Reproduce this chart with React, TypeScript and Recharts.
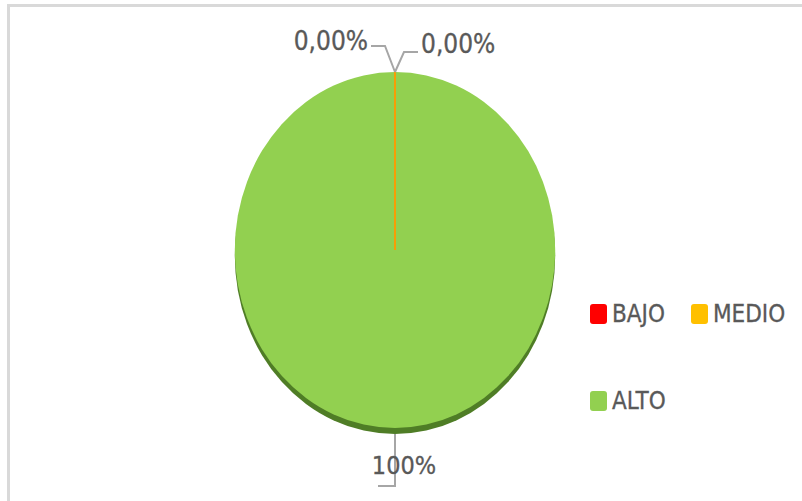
import React from 'react';
import { PieChart, Pie, Cell, Legend } from 'recharts';

const categories = ['BAJO', 'MEDIO', 'ALTO'];
const values = [0, 0, 100];
const labelTexts = ['0,00%', '0,00%', '100%'];
const colors = ['#ff0000', '#ffc000', '#92d050'];

const data = categories.map((name, i) => ({ name, value: values[i] }));

const FONT = "'DejaVu Sans Condensed', 'DejaVu Sans', sans-serif";
const TEXT = '#595959';
const LINE = '#a6a6a6';
const RX_RATIO = 0.9;
const DEPTH = 6;

const pt = (cx: number, cy: number, rx: number, ry: number, a: number) => {
  const r = (a * Math.PI) / 180;
  return [cx + rx * Math.cos(r), cy - ry * Math.sin(r)];
};

const slicePath = (cx: number, cy: number, rx: number, ry: number, s: number, e: number) => {
  const delta = Math.abs(e - s);
  if (delta >= 359.99) {
    return `M ${cx} ${cy - ry} A ${rx} ${ry} 0 1 1 ${cx} ${cy + ry} A ${rx} ${ry} 0 1 1 ${cx} ${cy - ry} Z`;
  }
  const [x1, y1] = pt(cx, cy, rx, ry, s);
  const [x2, y2] = pt(cx, cy, rx, ry, e);
  const large = delta > 180 ? 1 : 0;
  const sweep = e < s ? 1 : 0;
  return `M ${cx} ${cy} L ${x1} ${y1} A ${rx} ${ry} 0 ${large} ${sweep} ${x2} ${y2} Z`;
};

const EllipseSlice = (props: any) => {
  const { cx, cy, outerRadius, startAngle, endAngle, fill } = props;
  if (Math.abs(endAngle - startAngle) < 0.001) return <g />;
  const rx = outerRadius * RX_RATIO;
  const ry = outerRadius;
  const d = slicePath(cx, cy, rx, ry, startAngle, endAngle);
  return (
    <g>
      <path d={d} fill="#4f7d26" transform={`translate(0, ${DEPTH})`} />
      <path d={d} fill={fill} />
    </g>
  );
};

const renderLabel = (props: any) => {
  const { cx, cy, midAngle, outerRadius, index, value } = props;
  const rx = outerRadius * RX_RATIO;
  const ry = outerRadius;
  const text = labelTexts[index];
  if (value === 0) {
    const [px, py] = pt(cx, cy, rx, ry, midAngle);
    const dir = index % 2 === 0 ? -1 : 1;
    const ky = dir < 0 ? -26 : -20;
    const kx = dir < 0 ? -10 : 9;
    const hx = dir < 0 ? -24 : 23;
    return (
      <g>
        <line x1={cx} y1={cy} x2={px} y2={py} stroke={colors[index]} strokeWidth={1.5} />
        <polyline
          points={`${px},${py} ${px + kx},${py + ky} ${px + hx},${py + ky}`}
          fill="none"
          stroke={LINE}
          strokeWidth={2}
        />
        <text
          x={px + hx + (dir < 0 ? -3 : 3)}
          y={py + ky - (dir < 0 ? 5 : 8)}
          textAnchor={dir < 0 ? 'end' : 'start'}
          dominantBaseline="central"
          fontFamily={FONT}
          fontSize={26}
          fill={TEXT}
          stroke={TEXT}
          strokeWidth={0.3}
        >
          {text}
        </text>
      </g>
    );
  }
  const [px, py0] = pt(cx, cy, rx, ry, midAngle);
  const py = py0 + DEPTH;
  return (
    <g>
      <polyline
        points={`${px},${py} ${px},${py + 52} ${px - 17},${py + 52}`}
        fill="none"
        stroke={LINE}
        strokeWidth={2}
      />
      <text
        x={px + 9}
        y={py + 31}
        textAnchor="middle"
        dominantBaseline="central"
        fontFamily={FONT}
        fontSize={25}
        fill={TEXT}
        stroke={TEXT}
        strokeWidth={0.3}
      >
        {text}
      </text>
    </g>
  );
};

const renderLegend = (props: any) => {
  const payload = [...(props.payload || [])].sort(
    (a: any, b: any) => categories.indexOf(a.value) - categories.indexOf(b.value)
  );
  return (
    <div style={{ display: 'flex', flexWrap: 'wrap', columnGap: 26, rowGap: 63, width: 212 }}>
      {payload.map((entry: any, i: number) => (
        <div key={i} style={{ display: 'flex', alignItems: 'center', height: 24 }}>
          <span
            style={{
              display: 'inline-block',
              width: 17,
              height: 20,
              borderRadius: 3,
              background: entry.color,
              marginRight: 5,
            }}
          />
          <span
            style={{
              fontFamily: FONT,
              fontSize: 24,
              color: TEXT,
              lineHeight: '24px',
              WebkitTextStroke: '0.3px #595959',
            }}
          >
            {entry.value}
          </span>
        </div>
      ))}
    </div>
  );
};

export default function App() {
  return (
    <div style={{ position: 'fixed', left: 0, top: 0, width: 802, height: 501, background: '#ffffff', overflow: 'hidden' }}>
      <div
        style={{
          position: 'absolute',
          left: 7,
          top: 4,
          width: 810,
          height: 510,
          borderTop: '3px solid #d9d9d9',
          borderLeft: '3px solid #d9d9d9',
        }}
      />
      <div style={{ position: 'absolute', left: 0, top: 0 }}>
        <PieChart width={802} height={501} margin={{ top: 0, right: 0, bottom: 0, left: 0 }}>
          <Pie
            data={data}
            dataKey="value"
            nameKey="name"
            cx={395}
            cy={250}
            outerRadius={178}
            startAngle={90}
            endAngle={-270}
            stroke="none"
            isAnimationActive={false}
            shape={EllipseSlice}
            label={renderLabel}
            labelLine={false}
          >
            {data.map((d, i) => (
              <Cell key={d.name} fill={colors[i]} />
            ))}
          </Pie>
          <Legend
            content={renderLegend}
            wrapperStyle={{ position: 'absolute', left: 590, top: 302, width: 212 }}
          />
        </PieChart>
      </div>
    </div>
  );
}
